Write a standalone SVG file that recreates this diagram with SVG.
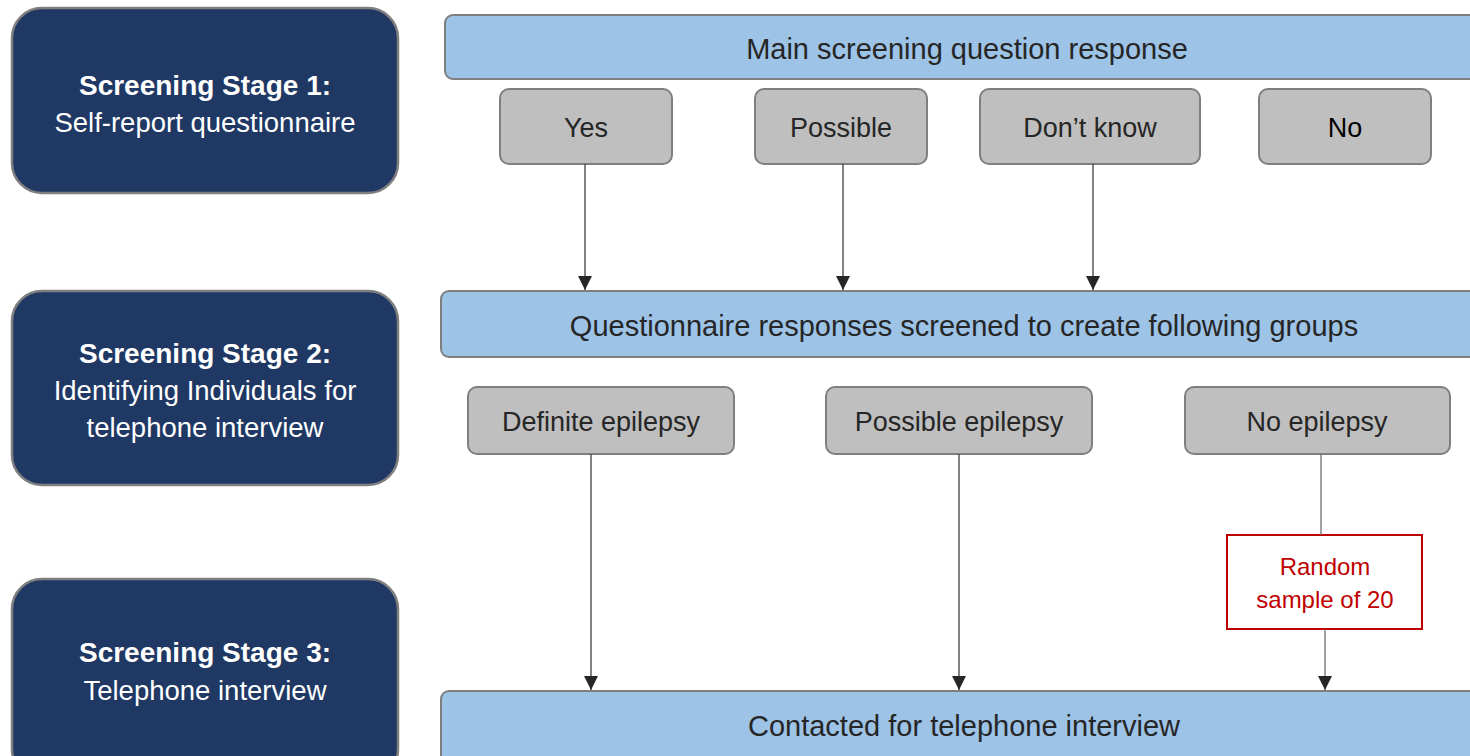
<svg xmlns="http://www.w3.org/2000/svg" width="1470" height="756" viewBox="0 0 1470 756">
<style>
text{font-family:"Liberation Sans",Arial,sans-serif;text-anchor:middle}
.stage{fill:#203864;stroke:#7f7f7f;stroke-width:2.5}
.st{fill:#fff;font-size:27.5px}
.stb{fill:#fff;font-size:28px;font-weight:bold}
.bar{fill:#9dc3e6;stroke:#7f7f7f;stroke-width:2}
.bt{fill:#262626;font-size:29px}
.gray{fill:#bfbfbf;stroke:#7f7f7f;stroke-width:2}
.gt{fill:#262626;font-size:27px}
.red{fill:#fff;stroke:#c00000;stroke-width:2}
.rt{fill:#c00000;font-size:24px}
.conn line{stroke:#3f3f3f;stroke-width:1.3}
</style>
<defs>
<marker id="arr" viewBox="0 0 10 10" refX="10" refY="5" markerWidth="14" markerHeight="14" markerUnits="userSpaceOnUse" orient="auto">
<path d="M0,0 L10,5 L0,10 Z" fill="#262626"/>
</marker>
</defs>
<g id="stage1"><rect class="stage" x="12" y="8" width="386" height="185" rx="30"/><text class="stb" x="205" y="95">Screening Stage 1:</text><text class="st" x="205" y="132">Self-report questionnaire</text></g>
<g id="stage2"><rect class="stage" x="12" y="291" width="386" height="194" rx="30"/><text class="stb" x="205" y="363">Screening Stage 2:</text><text class="st" x="205" y="400">Identifying Individuals for</text><text class="st" x="205" y="437">telephone interview</text></g>
<g id="stage3"><rect class="stage" x="12" y="579" width="386" height="200" rx="30"/><text class="stb" x="205" y="662">Screening Stage 3:</text><text class="st" x="205" y="700">Telephone interview</text></g>
<g id="main"><rect class="bar" x="445" y="15" width="1040" height="64" rx="8"/><text class="bt" x="967" y="59">Main screening question response</text></g>
<g id="yes"><rect class="gray" x="500" y="89" width="172" height="75" rx="9"/><text class="gt" x="586" y="137">Yes</text></g>
<g id="possible"><rect class="gray" x="755" y="89" width="172" height="75" rx="9"/><text class="gt" x="841" y="137">Possible</text></g>
<g id="dontknow"><rect class="gray" x="980" y="89" width="220" height="75" rx="9"/><text class="gt" x="1090" y="137">Don’t know</text></g>
<g id="no"><rect class="gray" x="1259" y="89" width="172" height="75" rx="9"/><text class="gt" x="1345" y="137" style="fill:#000">No</text></g>
<g id="screened"><rect class="bar" x="441" y="291" width="1045" height="66" rx="8"/><text class="bt" x="964" y="336">Questionnaire responses screened to create following groups</text></g>
<g id="definite"><rect class="gray" x="468" y="387" width="266" height="67" rx="9"/><text class="gt" x="601" y="431">Definite epilepsy</text></g>
<g id="possibleep"><rect class="gray" x="826" y="387" width="266" height="67" rx="9"/><text class="gt" x="959" y="431">Possible epilepsy</text></g>
<g id="noep"><rect class="gray" x="1185" y="387" width="265" height="67" rx="9"/><text class="gt" x="1317" y="431">No epilepsy</text></g>
<g id="random"><rect class="red" x="1227" y="535" width="195" height="94"/><text class="rt" x="1325" y="575">Random</text><text class="rt" x="1325" y="608">sample of 20</text></g>
<g id="contacted"><rect class="bar" x="441" y="691" width="1045" height="80" rx="8"/><text class="bt" x="964" y="736">Contacted for telephone interview</text></g>
<g class="conn" id="connectors">
<line x1="585" y1="164" x2="585" y2="290" marker-end="url(#arr)"/>
<line x1="843" y1="164" x2="843" y2="290" marker-end="url(#arr)"/>
<line x1="1093" y1="164" x2="1093" y2="290" marker-end="url(#arr)"/>
<line x1="591" y1="454" x2="591" y2="690" marker-end="url(#arr)"/>
<line x1="959" y1="454" x2="959" y2="690" marker-end="url(#arr)"/>
<line x1="1321" y1="454" x2="1321" y2="535" style="stroke:#6f6f6f"/>
<line x1="1325" y1="629" x2="1325" y2="690" marker-end="url(#arr)" style="stroke:#6f6f6f"/>
</g>
</svg>
